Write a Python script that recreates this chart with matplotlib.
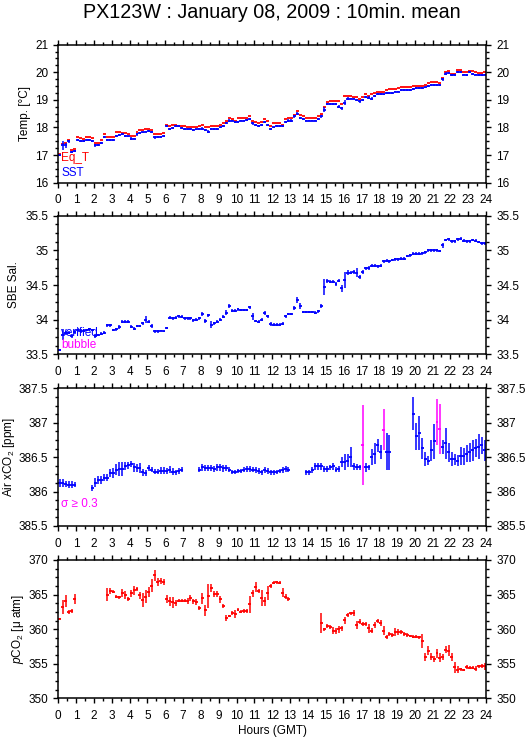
import numpy as np
import matplotlib
matplotlib.use('Agg')
import matplotlib.pyplot as plt
from matplotlib.ticker import MultipleLocator, FuncFormatter

plt.rcParams['font.family'] = ['Liberation Sans', 'DejaVu Sans']
plt.rcParams['mathtext.fontset'] = 'custom'
plt.rcParams['mathtext.rm'] = 'Liberation Sans'
plt.rcParams['mathtext.it'] = 'Liberation Sans:italic'

nan = np.nan

hour_ticks = list(range(0, 25))

# ---------------- Panel 1: temperatures (10-min means) ----------------
sst = [17.0, 17.35, 17.35, 17.5, 17.1, 17.15,
       17.55, 17.52, 17.5, 17.55, 17.55, 17.5,
       17.35, 17.38, 17.45, 17.65, 17.55, 17.55,
       17.55, 17.7, 17.72, 17.75, 17.7, 17.68,
       17.6, 17.6, 17.75, 17.8, 17.82, 17.85,
       17.88, 17.85, 17.65, 17.65, 17.65, 17.7,
       18.05, 17.95, 17.98, 18.05, 18.05, 17.98,
       17.95, 17.95, 17.95, 17.9, 17.93, 17.95,
       17.95, 17.9, 17.85, 17.95, 17.95, 17.95,
       18.0, 18.05, 18.15, 18.25, 18.25, 18.2,
       18.2, 18.25, 18.25, 18.28, 18.3, 18.15,
       18.1, 18.05, 18.1, 18.2, 18.1, 17.95,
       18.0, 18.05, 18.05, 18.05, 18.2, 18.25,
       18.25, 18.4, 18.5, 18.35, 18.3, 18.25,
       18.25, 18.25, 18.25, 18.3, 18.4, 18.65,
       18.85, 18.85, 18.85, 18.85, 18.75, 18.7,
       18.9, 19.05, 19.05, 19.05, 19.0, 18.95,
       19.0, 19.1, 19.08, 19.05, 19.15, 19.2,
       19.2, 19.2, 19.25, 19.25, 19.25, 19.3,
       19.3, 19.35, 19.35, 19.35, 19.35, 19.4,
       19.42, 19.42, 19.42, 19.45, 19.5, 19.55,
       19.55, 19.55, 19.55, 19.75, 19.95, 19.98,
       19.9, 19.9, 20.0, 20.0, 19.92, 19.9,
       20.0, 19.95, 19.92, 19.9, 19.9, 19.92]
sst_sd = [0.02, 0.15, 0.08, 0.06, 0.04, 0.04,
          0.05, 0.04, 0.03, 0.04, 0.03, 0.03,
          0.04, 0.04, 0.04, 0.04, 0.03, 0.04,
          0.04, 0.04, 0.03, 0.03, 0.04, 0.03,
          0.04, 0.03, 0.05, 0.03, 0.03, 0.03,
          0.03, 0.04, 0.05, 0.03, 0.03, 0.03,
          0.05, 0.03, 0.03, 0.03, 0.03, 0.03,
          0.03, 0.03, 0.03, 0.04, 0.03, 0.03,
          0.05, 0.04, 0.05, 0.03, 0.03, 0.03,
          0.03, 0.04, 0.04, 0.05, 0.03, 0.03,
          0.03, 0.03, 0.03, 0.03, 0.04, 0.05,
          0.04, 0.04, 0.03, 0.05, 0.04, 0.04,
          0.03, 0.03, 0.03, 0.05, 0.04, 0.04,
          0.04, 0.04, 0.05, 0.04, 0.03, 0.03,
          0.03, 0.03, 0.03, 0.04, 0.04, 0.08,
          0.04, 0.03, 0.03, 0.03, 0.05, 0.05,
          0.1, 0.04, 0.03, 0.03, 0.04, 0.05,
          0.04, 0.04, 0.05, 0.04, 0.04, 0.04,
          0.04, 0.03, 0.03, 0.03, 0.03, 0.03,
          0.03, 0.03, 0.03, 0.03, 0.03, 0.03,
          0.03, 0.03, 0.03, 0.03, 0.04, 0.04,
          0.03, 0.03, 0.03, 0.05, 0.05, 0.04,
          0.04, 0.05, 0.03, 0.03, 0.03, 0.03,
          0.03, 0.04, 0.03, 0.03, 0.03, 0.03]
eq_t = [17.05, 17.4, 17.45, 17.55, 17.2, 17.22,
        17.65, 17.62, 17.6, 17.65, 17.65, 17.62,
        17.45, 17.45, 17.55, 17.75, 17.65, 17.65,
        17.65, 17.82, 17.82, 17.8, 17.8, 17.75,
        17.7, 17.7, 17.85, 17.9, 17.92, 17.95,
        17.95, 17.9, 17.75, 17.75, 17.75, 17.8,
        18.1, 18.05, 18.1, 18.1, 18.05, 18.05,
        18.05, 18.0, 18.0, 18.02, 18.02, 18.05,
        18.08, 18.02, 18.0, 18.05, 18.05, 18.05,
        18.1, 18.15, 18.25, 18.35, 18.3, 18.25,
        18.35, 18.35, 18.35, 18.35, 18.4, 18.25,
        18.2, 18.15, 18.2, 18.3, 18.25, 18.07,
        18.15, 18.15, 18.15, 18.1, 18.3, 18.35,
        18.35, 18.45, 18.6, 18.45, 18.4, 18.35,
        18.35, 18.35, 18.35, 18.4, 18.5, 18.75,
        18.92, 18.95, 18.95, 18.95, 18.95, 18.85,
        19.15, 19.15, 19.15, 19.1, 19.1, 19.05,
        19.1, 19.2, 19.15, 19.2, 19.25, 19.3,
        19.3, 19.3, 19.35, 19.38, 19.4, 19.4,
        19.42, 19.45, 19.45, 19.45, 19.45, 19.5,
        19.5, 19.52, 19.5, 19.55, 19.6, 19.65,
        19.65, 19.65, 19.62, 19.8, 20.0, 20.05,
        19.95, 19.95, 20.08, 20.08, 20.02, 20.0,
        20.05, 20.05, 20.0, 19.98, 19.98, 20.02]

# ---------------- Panel 2: SBE salinity ----------------
sal = [33.56, 33.78, 33.81, 33.81, 33.76, 33.82,
       33.85, 33.83, 33.84, 33.85, 33.86, 33.85,
       33.77, 33.78, 33.8, 33.81, 33.92, 33.92,
       33.85, 33.86, 33.9, 33.97, 33.97, 33.97,
       33.9, 33.87, 33.91, 33.91, 33.95, 34.0,
       33.97, 33.91, 33.83, 33.83, 33.84, 33.83,
       33.88, 34.03, 34.02, 34.03, 34.05, 34.04,
       34.02, 34.02, 34.02, 33.99, 34.0, 34.02,
       34.08, 33.98, 34.06, 33.93, 33.95, 33.97,
       34.0, 34.04, 34.1, 34.2, 34.13, 34.13,
       34.15, 34.14, 34.14, 34.14, 34.18, 34.05,
       33.98, 33.97, 34.0, 34.09, 34.05, 33.94,
       33.93, 33.93, 33.93, 33.94, 34.05, 34.08,
       34.08, 34.17, 34.28, 34.2, 34.11, 34.11,
       34.11, 34.11, 34.1, 34.12, 34.2, 34.47,
       34.56, 34.55, 34.55, 34.51, 34.56, 34.45,
       34.57, 34.68, 34.68, 34.69, 34.68, 34.62,
       34.69, 34.74, 34.75, 34.78, 34.78, 34.77,
       34.78, 34.84, 34.85, 34.84, 34.86, 34.87,
       34.87, 34.88, 34.88, 34.92, 34.93, 34.95,
       34.95, 34.95, 34.96, 34.97, 35.0, 35.0,
       35.0, 35.0, 34.99, 35.07, 35.15, 35.16,
       35.13, 35.13, 35.16, 35.17, 35.14, 35.13,
       35.13, 35.15, 35.14, 35.12, 35.1, 35.1]
sal_sd = [0.01, 0.08, 0.03, 0.02, 0.03, 0.03,
          0.03, 0.02, 0.02, 0.02, 0.02, 0.02,
          0.03, 0.02, 0.02, 0.02, 0.02, 0.02,
          0.02, 0.02, 0.03, 0.02, 0.02, 0.02,
          0.02, 0.02, 0.02, 0.02, 0.02, 0.05,
          0.02, 0.03, 0.02, 0.02, 0.01, 0.01,
          0.02, 0.02, 0.02, 0.02, 0.02, 0.02,
          0.02, 0.02, 0.02, 0.02, 0.02, 0.02,
          0.03, 0.03, 0.02, 0.05, 0.02, 0.02,
          0.02, 0.02, 0.04, 0.03, 0.02, 0.02,
          0.02, 0.02, 0.02, 0.02, 0.02, 0.05,
          0.02, 0.02, 0.02, 0.03, 0.02, 0.03,
          0.02, 0.02, 0.02, 0.02, 0.02, 0.02,
          0.02, 0.03, 0.04, 0.04, 0.02, 0.02,
          0.02, 0.02, 0.02, 0.02, 0.03, 0.12,
          0.03, 0.02, 0.02, 0.03, 0.02, 0.05,
          0.12, 0.03, 0.02, 0.03, 0.06, 0.03,
          0.03, 0.02, 0.03, 0.02, 0.02, 0.02,
          0.02, 0.02, 0.02, 0.02, 0.02, 0.02,
          0.02, 0.02, 0.02, 0.02, 0.02, 0.02,
          0.02, 0.02, 0.02, 0.02, 0.02, 0.02,
          0.02, 0.02, 0.02, 0.03, 0.02, 0.02,
          0.02, 0.02, 0.02, 0.02, 0.02, 0.02,
          0.02, 0.02, 0.02, 0.02, 0.02, 0.02]

# ---------------- Panel 3: Air xCO2 ----------------
air = [386.12, 386.12, 386.11, 386.1, 386.1, 386.1,
       nan, nan, nan, nan, nan, 386.05,
       386.13, 386.17, 386.17, 386.2, 386.2, 386.27,
       386.27, 386.32, 386.33, 386.33, 386.37, 386.38,
       386.4, 386.35, 386.34, 386.34, 386.28, 386.27,
       386.34, 386.32, 386.29, 386.29, 386.3, 386.3,
       386.3, 386.32, 386.29, 386.28, 386.3, 386.32,
       nan, nan, nan, nan, nan, 386.32,
       386.35, 386.34, 386.34, 386.34, 386.33, 386.35,
       386.35, 386.34, 386.34, 386.32, 386.29, 386.29,
       386.3, 386.3, 386.32, 386.33, 386.33, 386.32,
       386.31, 386.3, 386.28, 386.31, 386.3, 386.28,
       386.28, 386.29, 386.3, 386.31, 386.33, 386.32,
       nan, nan, nan, nan, nan, 386.28,
       386.28, 386.31, 386.37, 386.37, 386.37, 386.33,
       386.33, 386.35, 386.37, 386.32, 386.33, 386.43,
       386.43, 386.45, 386.5, 386.37, 386.36, 386.35,
       386.68, 386.35, 386.35, 386.5, 386.55, 386.67,
       386.57, 386.9, 386.58, 386.57, nan, nan,
       nan, nan, nan, nan, nan, 387.13,
       386.8, 386.85, 386.63, 386.47, 386.45, 386.6,
       386.73, 387.01, 386.91, 386.65, 386.7, 386.57,
       386.47, 386.47, 386.45, 386.52, 386.51, 386.55,
       386.57, 386.6, 386.63, 386.65, 386.67, 386.6]
air_sd = [0.06, 0.06, 0.05, 0.05, 0.05, 0.04,
          nan, nan, nan, nan, nan, 0.04,
          0.06, 0.06, 0.06, 0.05, 0.05, 0.06,
          0.07, 0.08, 0.1, 0.1, 0.06, 0.05,
          0.05, 0.06, 0.06, 0.07, 0.05, 0.04,
          0.04, 0.04, 0.04, 0.04, 0.05, 0.05,
          0.04, 0.05, 0.05, 0.04, 0.04, 0.04,
          nan, nan, nan, nan, nan, 0.04,
          0.05, 0.04, 0.04, 0.04, 0.04, 0.05,
          0.05, 0.05, 0.04, 0.03, 0.03, 0.03,
          0.03, 0.03, 0.03, 0.04, 0.04, 0.04,
          0.04, 0.04, 0.04, 0.04, 0.04, 0.04,
          0.04, 0.03, 0.03, 0.04, 0.04, 0.04,
          nan, nan, nan, nan, nan, 0.04,
          0.04, 0.04, 0.05, 0.05, 0.05, 0.04,
          0.04, 0.04, 0.05, 0.04, 0.04, 0.07,
          0.11, 0.1, 0.15, 0.05, 0.04, 0.04,
          0.58, 0.06, 0.04, 0.12, 0.15, 0.1,
          0.1, 0.3, 0.27, 0.25, nan, nan,
          nan, nan, nan, nan, nan, 0.24,
          0.2, 0.25, 0.15, 0.1, 0.07, 0.15,
          0.25, 0.34, 0.36, 0.1, 0.22, 0.14,
          0.1, 0.08, 0.08, 0.13, 0.12, 0.12,
          0.14, 0.15, 0.13, 0.18, 0.12, 0.15]

# ---------------- Panel 4: pCO2 ----------------
pco2 = [361.5, 363.2, 364.1, 362.5, 362.6, 364.4,
        nan, nan, nan, nan, nan, nan,
        nan, nan, nan, nan, 365.0, 365.5,
        365.4, 364.7, 364.6, 365.2, 364.9, 364.4,
        365.2, 365.6, 365.8, 364.9, 364.2, 364.7,
        365.4, 366.3, 367.8, 366.8, 367.0, 366.8,
        364.4, 364.0, 363.9, 363.8, 364.1, 364.1,
        364.1, 364.1, 364.5, 364.0, 363.9, 363.0,
        364.5, 362.7, 364.8, 366.0, 365.1, 365.1,
        364.3, 363.4, 361.6, 361.9, 362.3, 362.2,
        362.8, 362.5, 362.6, 362.6, 363.6, 365.2,
        366.1, 365.5, 364.5, 364.0, 365.2, 366.3,
        366.7, 366.8, 366.7, 365.3, 364.7, 364.3,
        nan, nan, nan, nan, nan, nan,
        nan, nan, nan, nan, 360.9, 360.0,
        360.4, 360.3, 359.8, 359.7, 360.0, 360.1,
        361.3, 362.1, 362.3, 362.3, 360.6, 361.1,
        360.8, 360.8, 360.1, 359.8, 360.6, 361.2,
        360.9, 359.8, 358.9, 359.3, 359.2, 359.6,
        359.6, 359.6, 359.3, 359.2, 359.0, 358.9,
        358.9, 358.8, 358.3, 356.0, 356.9, 356.0,
        355.7, 356.5, 355.9, 356.0, 357.0, 356.9,
        356.0, 354.5, 354.1, 354.2, 354.1, 354.5,
        354.4, 354.4, 354.3, 354.6, 354.7, 354.6]
pco2_sd = [0.1, 1.0, 0.9, 0.3, 0.3, 0.7,
           nan, nan, nan, nan, nan, nan,
           nan, nan, nan, nan, 0.9, 0.4,
           0.2, 0.2, 0.2, 0.6, 0.6, 0.3,
           0.5, 0.6, 0.3, 0.5, 1.0, 0.9,
           0.7, 0.9, 0.8, 0.6, 0.4, 0.4,
           0.6, 0.6, 0.8, 0.4, 0.2, 0.2,
           0.2, 0.4, 0.4, 0.3, 0.4, 0.3,
           0.8, 0.8, 1.8, 0.6, 0.4, 0.4,
           0.5, 0.3, 0.4, 0.2, 0.3, 0.6,
           0.2, 0.2, 0.3, 0.3, 1.2, 0.5,
           0.7, 0.3, 1.2, 0.7, 1.0, 0.3,
           0.2, 0.2, 0.2, 0.6, 0.4, 0.3,
           nan, nan, nan, nan, nan, nan,
           nan, nan, nan, nan, 1.4, 0.2,
           0.3, 0.3, 0.5, 0.4, 0.5, 0.4,
           0.5, 0.3, 0.2, 0.4, 0.6, 0.4,
           0.3, 0.3, 0.6, 0.4, 0.4, 0.3,
           0.4, 0.6, 0.3, 0.3, 0.3, 0.6,
           0.4, 0.3, 0.3, 0.3, 0.2, 0.2,
           0.2, 0.2, 1.0, 0.6, 0.6, 0.5,
           0.4, 0.7, 0.7, 0.4, 0.5, 0.8,
           0.6, 0.8, 0.5, 0.2, 0.2, 0.3,
           0.2, 0.2, 0.3, 0.2, 0.3, 0.5]

SIGMA_LIMIT = 0.3

# ---------------- Figure ----------------
W_PX, H_PX = 529, 739
fig = plt.figure(figsize=(W_PX / 100, H_PX / 100), dpi=100)

AX_L, AX_R = 58.3, 486.0
panels_px = [(44.7, 182.7), (215.7, 354.3), (388.3, 526.0), (560.0, 698.3)]


def add_ax(top, bot):
    return fig.add_axes([AX_L / W_PX, 1 - bot / H_PX,
                         (AX_R - AX_L) / W_PX, (bot - top) / H_PX])


def style(ax, ylim, major, minor):
    ax.set_xlim(0, 24)
    ax.set_ylim(*ylim)
    ax.set_xticks(hour_ticks)
    ax.set_xticklabels([str(h) for h in hour_ticks])
    ax.xaxis.set_minor_locator(MultipleLocator(0.5))
    ax.yaxis.set_major_locator(MultipleLocator(major))
    ax.yaxis.set_minor_locator(MultipleLocator(minor))
    ax.yaxis.set_major_formatter(FuncFormatter(lambda v, p: '%g' % v))
    ax.tick_params(which='both', direction='out', top=True, right=True,
                   labelright=True, labelsize=8.5, width=1.0, color='black')
    ax.tick_params(which='major', length=3.8)
    ax.tick_params(which='minor', length=2.2)
    ax.tick_params(axis='x', pad=4.5)
    ax.tick_params(axis='y', pad=3.5)
    for sp in ax.spines.values():
        sp.set_linewidth(1.1)


def draw(ax, vals, sds, color, lw=1.1):
    v = np.asarray(vals, dtype=float)
    t0 = np.arange(len(v)) / 6.0
    m = ~np.isnan(v)
    cols = color if not callable(color) else None
    if sds is not None:
        s = np.asarray(sds, dtype=float)
        if callable(color):
            cols = [color(x) for x in s[m]]
        ax.vlines(t0[m] + 1 / 12, v[m] - s[m], v[m] + s[m], colors=cols, linewidth=lw)
    ax.hlines(v[m], t0[m], t0[m] + 1 / 6, colors=cols, linewidth=lw + 0.2)


axs = [add_ax(*p) for p in panels_px]

# Panel 1
ax = axs[0]
style(ax, (16, 21), 1, 0.25)
draw(ax, eq_t, None, '#ff0000')
draw(ax, sst, sst_sd, '#0000ff')
ax.text(0.007, 0.177, 'Eq_T', color='#ff0000', fontsize=8.5, transform=ax.transAxes, va='center')
ax.text(0.007, 0.072, 'SST', color='#0000ff', fontsize=8.5, transform=ax.transAxes, va='center')

# Panel 2
ax = axs[1]
style(ax, (33.5, 35.5), 0.5, 0.125)
draw(ax, sal, sal_sd, '#0000ff')
ax.text(0.007, 0.156, 'verified', color='#0000ff', fontsize=8.5, transform=ax.transAxes, va='center')
ax.text(0.007, 0.065, 'bubble', color='#ff00ff', fontsize=8.5, transform=ax.transAxes, va='center')

# Panel 3
ax = axs[2]
style(ax, (385.5, 387.5), 0.5, 0.125)
draw(ax, air, air_sd, lambda s: '#ff00ff' if s >= SIGMA_LIMIT else '#0000ff')
ax.text(0.007, 0.158, 'σ ≥ 0.3', color='#ff00ff', fontsize=8.5, transform=ax.transAxes, va='center')

# Panel 4
ax = axs[3]
style(ax, (350, 370), 5, 1.25)
draw(ax, pco2, pco2_sd, '#ff0000')

# Y labels
ylabels = ['Temp. [°C]', 'SBE Sal.', 'Air xCO$_2$ [ppm]', '$p$CO$_2$ [μ atm]']
ylab_x = [25, 14, 9, 18]
for (top, bot), lab, xp in zip(panels_px, ylabels, ylab_x):
    fig.text(xp / W_PX, 1 - (top + bot) / 2 / H_PX, lab, rotation=90,
             ha='center', va='center', fontsize=8.5)

fig.text((AX_L + AX_R) / 2 / W_PX, 1 - 731 / H_PX, 'Hours (GMT)',
         ha='center', va='center', fontsize=8.5)
fig.text((AX_L + AX_R) / 2 / W_PX, 1 - 13 / H_PX,
         'PX123W : January 08, 2009 : 10min. mean',
         ha='center', va='center', fontsize=14.2)

fig.savefig('out.png', dpi=100, facecolor='white')
